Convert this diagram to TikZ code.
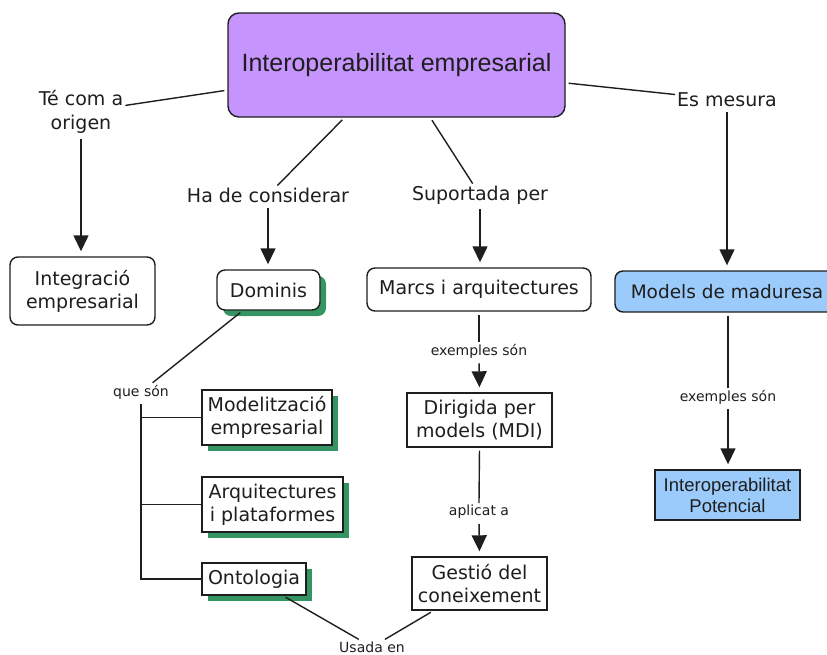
\documentclass[tikz,border=0pt]{standalone}
\usepackage{fontspec}
\setmainfont{DejaVu Sans}
\newfontfamily\arialf{Liberation Sans}
\usetikzlibrary{arrows.meta,shadows}
\definecolor{purp}{RGB}{197,148,252}
\definecolor{lblue}{RGB}{155,203,250}
\definecolor{shgreen}{RGB}{52,148,98}
\definecolor{ink}{RGB}{30,30,30}
\tikzset{
  boxfont/.style={font=\fontsize{19}{23}\selectfont},
  rbox/.style={draw=ink, line width=1.4pt, rounded corners=8pt, fill=white, align=center, inner sep=0pt, boxfont, text=ink},
  sbox/.style={draw=ink, line width=1.4pt, fill=white, align=center, inner sep=0pt, boxfont, text=ink},
  gshadow/.style={drop shadow={shadow xshift=6pt,shadow yshift=-6pt,fill=shgreen,opacity=1}},
  lab/.style={font=\fontsize{19}{24}\selectfont, align=center, inner sep=2pt, text=ink},
  slab/.style={font=\fontsize{14}{16}\selectfont, inner sep=2pt, text=ink},
  conn/.style={line width=1.4pt, draw=ink, shorten <=3pt},
  arr/.style={conn, -{Triangle[width=15pt,length=16pt]}, shorten >=5pt},
}
\begin{document}
\begin{tikzpicture}[x=1pt,y=-1pt]
\useasboundingbox (0,0) rectangle (827,654);
% main
\node[rbox, rounded corners=11pt, fill=purp, minimum width=337pt, minimum height=104pt,
      font=\arialf\fontsize{25}{30}\selectfont] (top) at (396.5,65) {Interoperabilitat empresarial};
% labels
\node[lab] (tecom) at (81,112) {Té com a\\origen};
\node[lab] (hade) at (268,195) {Ha de considerar};
\node[lab] (suport) at (480,195) {Suportada per};
\node[lab] (esmes) at (727,100) {Es mesura};
\node[slab] (queson) at (141,392) {que són};
\node[slab] (ex1) at (479,351) {exemples són};
\node[slab] (aplicat) at (479,512) {aplicat a};
\node[slab] (ex2) at (728,397) {exemples són};
\node[slab] (usada) at (372,647) {Usada en};
% concept boxes
\node[rbox, minimum width=145pt, minimum height=68pt] (integ) at (82.5,291) {Integració\\empresarial};
\node[rbox, gshadow, minimum width=103pt, minimum height=40pt] (dominis) at (268.5,290) {Dominis};
\node[rbox, minimum width=224pt, minimum height=43pt] (marcs) at (479,289.5) {Marcs i arquitectures};
\node[rbox, fill=lblue, minimum width=224pt, minimum height=41pt, font=\fontsize{18.5}{23}\selectfont] (models) at (727,291.5) {Models de maduresa};
\node[sbox, gshadow, minimum width=130pt, minimum height=55pt] (modelit) at (267,417.5) {Modelització\\empresarial};
\node[sbox, gshadow, minimum width=141pt, minimum height=55pt] (arquit) at (272.5,504.5) {Arquitectures\\i plataformes};
\node[sbox, gshadow, minimum width=104pt, minimum height=32pt] (onto) at (254,579) {Ontologia};
\node[sbox, minimum width=145pt, minimum height=54pt] (dirig) at (479.5,420) {Dirigida per\\models (MDI)};
\node[sbox, minimum width=135pt, minimum height=53pt] (gestio) at (479.5,583.5) {Gestió del\\coneixement};
\node[sbox, fill=lblue, minimum width=145pt, minimum height=50pt,
      font=\arialf\fontsize{18.5}{21}\selectfont] (potenc) at (727.5,495) {Interoperabilitat\\Potencial};
% connectors
\draw[conn] (top) -- (tecom);
\draw[arr] (tecom.south) -- (tecom.south |- integ.north);
\draw[conn] (top) -- (hade);
\draw[arr] (hade.south) -- (hade.south |- dominis.north);
\draw[conn] (top) -- (suport);
\draw[arr] (suport.south) -- (suport.south |- marcs.north);
\draw[conn] (top) -- (esmes);
\draw[arr] (esmes.south) -- (esmes.south |- models.north);
\draw[conn] (dominis) -- (queson);
\draw[conn] (queson.south) -- (queson.south |- onto.west) -- (onto.west);
\draw[conn, shorten <=0pt] (queson.south |- modelit.west) -- (modelit.west);
\draw[conn, shorten <=0pt] (queson.south |- arquit.west) -- (arquit.west);
\draw[conn] (marcs.south) -- (ex1.north);
\draw[arr] (ex1.south) -- (dirig.north);
\draw[conn] (dirig.south) -- (aplicat.north);
\draw[arr] (aplicat.south) -- (gestio.north);
\draw[conn] (models.south -| ex2.north) -- (ex2.north);
\draw[arr] (ex2.south) -- (ex2.south |- potenc.north);
\draw[conn] (onto) -- (usada);
\draw[conn] (gestio) -- (usada);
\end{tikzpicture}
\end{document}
